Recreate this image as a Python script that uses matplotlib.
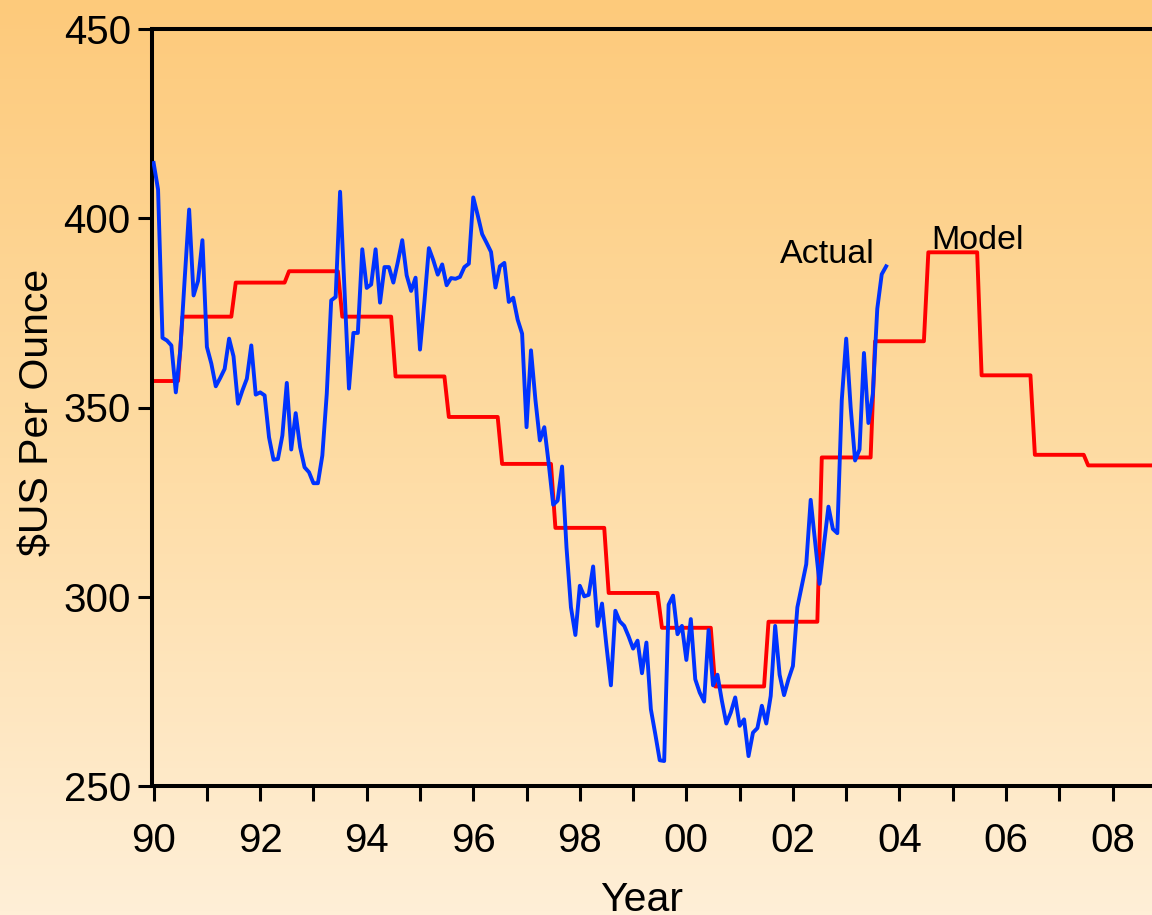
import numpy as np
import matplotlib
matplotlib.use('Agg')
import matplotlib.pyplot as plt
from matplotlib.colors import LinearSegmentedColormap
from matplotlib.ticker import MultipleLocator, FuncFormatter

plt.rcParams['font.family'] = ['Liberation Sans', 'DejaVu Sans']

# actual gold price, monthly from Jan 1990 ($US per ounce)
actual_start = 1990.0
actual = [414.6, 407.6, 368.4, 367.7, 366.4, 354.0, 365.0, 384.0, 402.3, 379.6, 383.4, 394.2,
          366.0, 361.6, 355.6, 357.8, 360.2, 368.2, 363.5, 351.0, 354.5, 357.6, 366.4, 353.4,
          354.0, 353.2, 342.1, 336.2, 336.4, 342.6, 356.5, 338.9, 348.5, 339.5, 334.2, 332.9,
          330.0, 330.0, 337.3, 353.6, 378.3, 379.2, 407.0, 381.0, 355.0, 369.7, 369.7, 391.8,
          381.6, 382.5, 391.8, 377.7, 387.1, 387.1, 383.0, 388.4, 394.2, 384.9, 380.8, 384.3,
          365.3, 378.0, 392.1, 388.9, 385.1, 387.8, 382.3, 384.2, 384.0, 384.5, 387.1, 388.0,
          405.5, 400.8, 395.8, 393.5, 391.1, 381.7, 387.3, 388.2, 377.9, 379.0, 373.2, 369.5,
          344.8, 365.1, 352.0, 341.3, 344.8, 335.1, 324.3, 325.4, 334.4, 313.0, 297.2, 289.9,
          302.9, 300.1, 300.5, 308.0, 292.3, 298.2, 287.0, 276.6, 296.3, 293.5, 292.3, 289.5,
          286.3, 288.4, 279.8, 287.9, 270.3, 263.7, 256.8, 256.6, 297.9, 300.3, 290.1, 292.3,
          283.3, 294.1, 278.2, 274.7, 272.3, 291.2, 276.6, 279.4, 272.5, 266.5, 269.4, 273.4,
          265.9, 267.6, 257.9, 264.1, 265.3, 271.2, 266.5, 273.8, 292.3, 279.4, 274.0, 278.2,
          281.7, 297.2, 302.9, 308.6, 325.6, 314.4, 303.4, 313.9, 323.8, 317.9, 316.8, 351.9,
          368.2, 350.1, 336.0, 338.9, 364.4, 345.9, 353.6, 376.1, 385.2, 387.3]

# model price: level changes each mid-year
model_start = [1990.0, 1990.5, 1991.5, 1992.5, 1993.5, 1994.5, 1995.5, 1996.5, 1997.5,
               1998.5, 1999.5, 2000.5, 2001.5, 2002.5, 2003.5, 2004.5, 2005.5, 2006.5, 2007.5]
model = [357.0, 374.0, 383.0, 386.0, 374.0, 358.2, 347.5, 335.1, 318.2,
         301.0, 291.8, 276.3, 293.4, 336.8, 367.5, 391.0, 358.5, 337.5, 334.7]
model_end = 2008.74

xmin, xmax = 1989.964, 2008.74
ymin, ymax = 250, 450

fig = plt.figure(figsize=(11.52, 9.15), dpi=100)

# gradient background for the whole figure
bg = fig.add_axes([0, 0, 1, 1], zorder=-10)
grad = LinearSegmentedColormap.from_list('bg', ['#ffefd7', '#fedca4', '#fdca7b'])
bg.imshow(np.linspace(0, 1, 256).reshape(-1, 1), cmap=grad, aspect='auto',
          origin='lower', extent=[0, 1, 0, 1])
bg.set_axis_off()

ax = fig.add_axes([151.7 / 1152, 1 - 786 / 915, 1 - 151.7 / 1152, (786 - 29) / 915])
ax.patch.set_alpha(0)

# actual series
t = actual_start + np.arange(len(actual)) / 12.0
ax.plot(t, actual, color='#0033ff', lw=2.8, zorder=3)

# model step line (one month ramp between levels)
mx, my = [], []
ends = model_start[1:] + [model_end]
h = 1 / 24
for i, (s, e, v) in enumerate(zip(model_start, ends, model)):
    s0 = s if i == 0 else s + h
    e0 = e if i == len(model) - 1 else e - h
    mx += [s0, e0]
    my += [v, v]
ax.plot(mx, my, color='#ff0000', lw=2.8, zorder=2)

ax.set_xlim(xmin, xmax)
ax.set_ylim(ymin, ymax)

ax.spines['right'].set_visible(False)
for s in ['left', 'bottom', 'top']:
    ax.spines[s].set_linewidth(2.9)

ax.yaxis.set_major_locator(MultipleLocator(50))
ax.xaxis.set_major_locator(MultipleLocator(2))
ax.xaxis.set_minor_locator(MultipleLocator(1))
ax.xaxis.set_major_formatter(FuncFormatter(lambda v, p: '%02d' % (int(round(v)) % 100)))

ax.tick_params(axis='y', direction='out', length=10, width=2.2, labelsize=29, pad=5)
ax.tick_params(axis='x', which='both', direction='out', length=11, width=2.2, labelsize=29, pad=15)

ax.text(2001.757, 388.1, 'Actual', fontsize=24.5)
ax.text(2004.60, 392.0, 'Model', fontsize=24.5)

fig.text(38 / 1152, 1 - 412 / 915, '\\$US Per Ounce', rotation=90, ha='center', va='center', fontsize=29.5)
fig.text(642 / 1152, 1 - 911 / 915, 'Year', ha='center', va='baseline', fontsize=29.5)

fig.savefig('out.png', dpi=100)
